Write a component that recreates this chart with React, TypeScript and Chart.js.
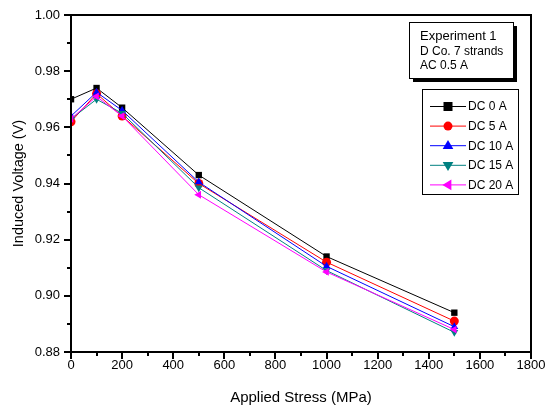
import React, { useEffect, useRef } from "react";
import { Chart, registerables } from "chart.js";

Chart.register(...registerables);

const stress = [0, 100, 200, 500, 1000, 1500];
const dc0 = [0.970, 0.974, 0.967, 0.943, 0.914, 0.894];
const dc5 = [0.962, 0.972, 0.964, 0.940, 0.912, 0.891];
const dc10 = [0.964, 0.9725, 0.966, 0.9405, 0.9105, 0.889];
const dc15 = [0.963, 0.970, 0.965, 0.9385, 0.909, 0.887];
const dc20 = [0.963, 0.971, 0.964, 0.936, 0.9085, 0.888];
const seriesLabels = ["DC 0 A", "DC 5 A", "DC 10 A", "DC 15 A", "DC 20 A"];
const noteLines = ["Experiment 1", "D Co. 7 strands", "AC 0.5 A"];

const FONT = "Arial, 'Liberation Sans', sans-serif";

const styles = [
  { color: "#000000", pointStyle: "rect", rotation: 0 },
  { color: "#ff0000", pointStyle: "circle", rotation: 0 },
  { color: "#0000ff", pointStyle: "triangle", rotation: 0 },
  { color: "#008080", pointStyle: "triangle", rotation: 180 },
  { color: "#ff00ff", pointStyle: "triangle", rotation: 270 },
];

function drawMarker(ctx: any, style: string, rotation: number, x: number, y: number, r: number, color: string) {
  ctx.save();
  ctx.fillStyle = color;
  ctx.translate(x, y);
  ctx.rotate((rotation * Math.PI) / 180);
  ctx.beginPath();
  if (style === "rect") {
    ctx.rect(-r, -r, 2 * r, 2 * r);
  } else if (style === "circle") {
    ctx.arc(0, 0, r, 0, Math.PI * 2);
  } else {
    const R = r * 1.25;
    ctx.moveTo(0, -R);
    ctx.lineTo(R * 0.95, R * 0.6);
    ctx.lineTo(-R * 0.95, R * 0.6);
    ctx.closePath();
  }
  ctx.fill();
  ctx.restore();
}

const decorPlugin = {
  id: "decor",
  afterDraw(chart: any) {
    const ctx = chart.ctx;
    const { left, right, top, bottom } = chart.chartArea;
    const L = Math.round(left), R = Math.round(right), T = Math.round(top), B = Math.round(bottom);
    const xs = chart.scales.x;
    const ys = chart.scales.y;
    ctx.save();
    ctx.fillStyle = "#000";
    // ticks
    for (let v = 0; v <= 1800; v += 100) {
      const px = Math.round(xs.getPixelForValue(v));
      const len = v % 200 === 0 ? 7 : 4;
      ctx.fillRect(px - 1, B, 2, len);
    }
    for (let i = 0; i <= 12; i++) {
      const v = 0.88 + i * 0.01;
      const py = Math.round(ys.getPixelForValue(v));
      const len = i % 2 === 0 ? 7 : 4;
      ctx.fillRect(L - len, py - 1, len, 2);
    }
    // frame
    ctx.fillRect(L - 1, T - 1, 2, B - T + 2);
    ctx.fillRect(R - 1, T - 1, 2, B - T + 2);
    ctx.fillRect(L - 1, T - 1, R - L + 2, 2);
    ctx.fillRect(L - 1, B - 1, R - L + 2, 2);
    ctx.strokeStyle = "#000";
    ctx.lineWidth = 1;
    // note box with shadow
    const bx = 409, by = 22, bw = 104, bh = 56;
    ctx.fillStyle = "#000";
    ctx.fillRect(bx + 4, by + 4, bw, bh);
    ctx.fillStyle = "#fff";
    ctx.fillRect(bx, by, bw, bh);
    ctx.strokeRect(bx + 0.5, by + 0.5, bw, bh);
    ctx.fillStyle = "#000";
    ctx.textBaseline = "middle";
    ctx.textAlign = "left";
    ctx.font = "13px " + FONT;
    ctx.fillText(noteLines[0], 420, 36);
    ctx.font = "12px " + FONT;
    ctx.fillText(noteLines[1], 420, 52);
    ctx.fillText(noteLines[2], 420, 66);
    // legend
    const lx = 422, ly = 89, lw = 96, lh = 105;
    ctx.fillStyle = "#fff";
    ctx.fillRect(lx, ly, lw, lh);
    ctx.strokeRect(lx + 0.5, ly + 0.5, lw, lh);
    ctx.font = "12px " + FONT;
    for (let i = 0; i < seriesLabels.length; i++) {
      const yy = 106.5 + i * 19.6;
      const st = styles[i];
      ctx.strokeStyle = st.color;
      ctx.beginPath();
      ctx.moveTo(430, yy);
      ctx.lineTo(466, yy);
      ctx.stroke();
      drawMarker(ctx, st.pointStyle, st.rotation, 448, yy, 4.5, st.color);
      ctx.fillStyle = "#000";
      ctx.fillText(seriesLabels[i], 468, yy + 0.5);
    }
    ctx.restore();
  },
};

export default function App() {
  const ref = useRef<HTMLCanvasElement>(null);
  useEffect(() => {
    document.body.style.margin = "0";
    const all = [dc0, dc5, dc10, dc15, dc20];
    const chart = new Chart(ref.current!, {
      type: "line",
      data: {
        datasets: all.map((vals, i) => ({
          label: seriesLabels[i],
          data: stress.map((s, j) => ({ x: s, y: vals[j] })),
          borderColor: styles[i].color,
          backgroundColor: styles[i].color,
          borderWidth: 1,
          pointStyle: styles[i].pointStyle as any,
          rotation: styles[i].rotation,
          pointRadius: 4.5,
          pointBorderWidth: 0,
          tension: 0,
          order: 4 - i,
        })),
      },
      options: {
        animation: false,
        responsive: false,
        maintainAspectRatio: false,
        layout: { padding: { left: 0, right: 15, top: 15, bottom: 0 } },
        plugins: { legend: { display: false }, tooltip: { enabled: false } },
        scales: {
          x: {
            type: "linear",
            min: 0,
            max: 1800,
            grid: { display: false, drawTicks: false },
            border: { display: false },
            ticks: {
              stepSize: 200,
              color: "#000",
              font: { family: FONT, size: 13 },
              padding: 6,
              maxRotation: 0,
              callback: (v: any) => String(v),
            },
            title: {
              display: true,
              text: "Applied Stress (MPa)",
              color: "#000",
              font: { family: FONT, size: 15 },
              padding: { top: 1, bottom: 0 },
            },
            afterFit(scale: any) {
              scale.height = 55;
              scale.paddingLeft = 0;
              scale.paddingRight = 0;
            },
          },
          y: {
            type: "linear",
            min: 0.88,
            max: 1.0,
            grid: { display: false, drawTicks: false },
            border: { display: false },
            ticks: {
              stepSize: 0.02,
              color: "#000",
              font: { family: FONT, size: 13 },
              padding: 11,
              callback: (v: any) => Number(v).toFixed(2),
            },
            title: {
              display: true,
              text: "Induced Voltage (V)",
              color: "#000",
              font: { family: FONT, size: 14.5 },
              padding: { top: 10, bottom: 0 },
            },
            afterFit(scale: any) {
              scale.width = 71;
              scale.paddingTop = 0;
              scale.paddingBottom = 0;
            },
          },
        },
      },
      plugins: [decorPlugin],
    } as any);
    return () => chart.destroy();
  }, []);
  return (
    <div style={{ position: "absolute", left: 0, top: 0, width: 546, height: 407 }}>
      <canvas ref={ref} width={546} height={407} style={{ width: 546, height: 407 }} />
    </div>
  );
}
